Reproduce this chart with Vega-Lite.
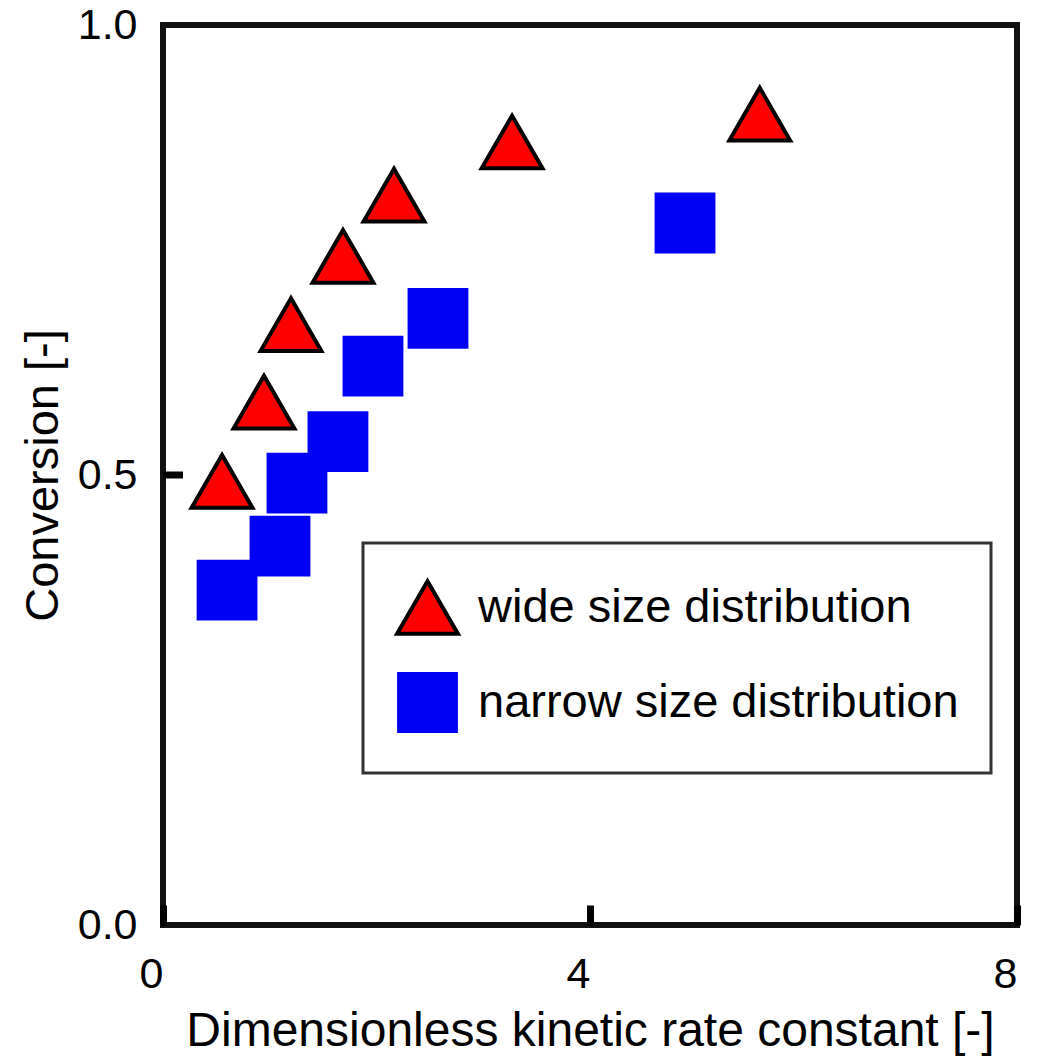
{
  "$schema": "https://vega.github.io/schema/vega-lite/v6.json",
  "width": 854,
  "height": 900,
  "autosize": "none",
  "padding": {"left": 163, "top": 25, "right": 25, "bottom": 131},
  "background": "white",
  "config": {
    "view": {"stroke": "#111111", "strokeWidth": 6},
    "font": "Liberation Sans",
    "legend": {"strokeWidth": 3}
  },
  "data": {
    "values": [
      {"series": "wide size distribution", "k": 0.553, "conv": 0.493},
      {"series": "wide size distribution", "k": 0.946, "conv": 0.581},
      {"series": "wide size distribution", "k": 1.199, "conv": 0.667},
      {"series": "wide size distribution", "k": 1.686, "conv": 0.743},
      {"series": "wide size distribution", "k": 2.164, "conv": 0.811},
      {"series": "wide size distribution", "k": 3.27, "conv": 0.870},
      {"series": "wide size distribution", "k": 5.59, "conv": 0.901},
      {"series": "narrow size distribution", "k": 0.600, "conv": 0.372},
      {"series": "narrow size distribution", "k": 1.096, "conv": 0.421},
      {"series": "narrow size distribution", "k": 1.255, "conv": 0.491},
      {"series": "narrow size distribution", "k": 1.639, "conv": 0.537},
      {"series": "narrow size distribution", "k": 1.967, "conv": 0.621},
      {"series": "narrow size distribution", "k": 2.576, "conv": 0.674},
      {"series": "narrow size distribution", "k": 4.89, "conv": 0.780}
    ]
  },
  "layer": [
    {
      "mark": {"type": "point", "filled": true, "opacity": 1, "size": 3700, "strokeWidth": 4},
      "encoding": {
        "x": {
          "field": "k",
          "type": "quantitative",
          "scale": {"domain": [0, 8], "nice": false, "zero": false},
          "axis": {
            "values": [0, 4, 8],
            "format": "d",
            "title": "Dimensionless kinetic rate constant [-]",
            "domain": false,
            "grid": false,
            "tickSize": -20,
            "tickWidth": 7,
            "tickColor": "black",
            "labelFontSize": 43,
            "labelColor": "black",
            "labelPadding": 48,
            "labelOffset": -12,
            "labelFlush": false,
            "labelBaseline": "top",
            "titleFontSize": 48,
            "titleFontWeight": "normal",
            "titleColor": "black",
            "titleBaseline": "alphabetic",
            "titleY": 120
          }
        },
        "y": {
          "field": "conv",
          "type": "quantitative",
          "scale": {"domain": [0, 1], "nice": false, "zero": false},
          "axis": {
            "values": [0, 0.5, 1],
            "format": ".1f",
            "title": "Conversion [-]",
            "domain": false,
            "grid": false,
            "ticks": false,
            "labelFontSize": 43,
            "labelColor": "black",
            "labelPadding": 26,
            "labelFlush": false,
            "titleFontSize": 47,
            "titleFontWeight": "normal",
            "titleColor": "black",
            "titleAngle": -90,
            "titleBaseline": "alphabetic",
            "titleAlign": "center",
            "titleX": -106,
            "titleY": 450
          }
        },
        "color": {
          "field": "series",
          "type": "nominal",
          "scale": {
            "domain": ["wide size distribution", "narrow size distribution"],
            "range": ["#ff0000", "#0000f5"]
          },
          "legend": {
            "orient": "none",
            "legendX": 200,
            "legendY": 518,
            "title": null,
            "strokeColor": "#333333",
            "fillColor": "white",
            "padding": 32,
            "labelFontSize": 47,
            "labelColor": "black",
            "labelOffset": 18,
            "labelLimit": 0,
            "symbolSize": 3700,
            "symbolStrokeWidth": 4,
            "symbolOpacity": 1,
            "rowPadding": 22
          }
        },
        "shape": {
          "field": "series",
          "type": "nominal",
          "scale": {
            "domain": ["wide size distribution", "narrow size distribution"],
            "range": ["triangle-up", "square"]
          }
        },
        "stroke": {
          "field": "series",
          "type": "nominal",
          "scale": {
            "domain": ["wide size distribution", "narrow size distribution"],
            "range": ["black", "transparent"]
          }
        }
      }
    },
    {
      "data": {"values": [{"tick": 0.5}]},
      "mark": {"type": "tick", "orient": "horizontal", "clip": true, "size": 40, "thickness": 7, "color": "black", "opacity": 1},
      "encoding": {
        "y": {"field": "tick", "type": "quantitative"},
        "x": {"datum": 0, "type": "quantitative"}
      }
    }
  ]
}
